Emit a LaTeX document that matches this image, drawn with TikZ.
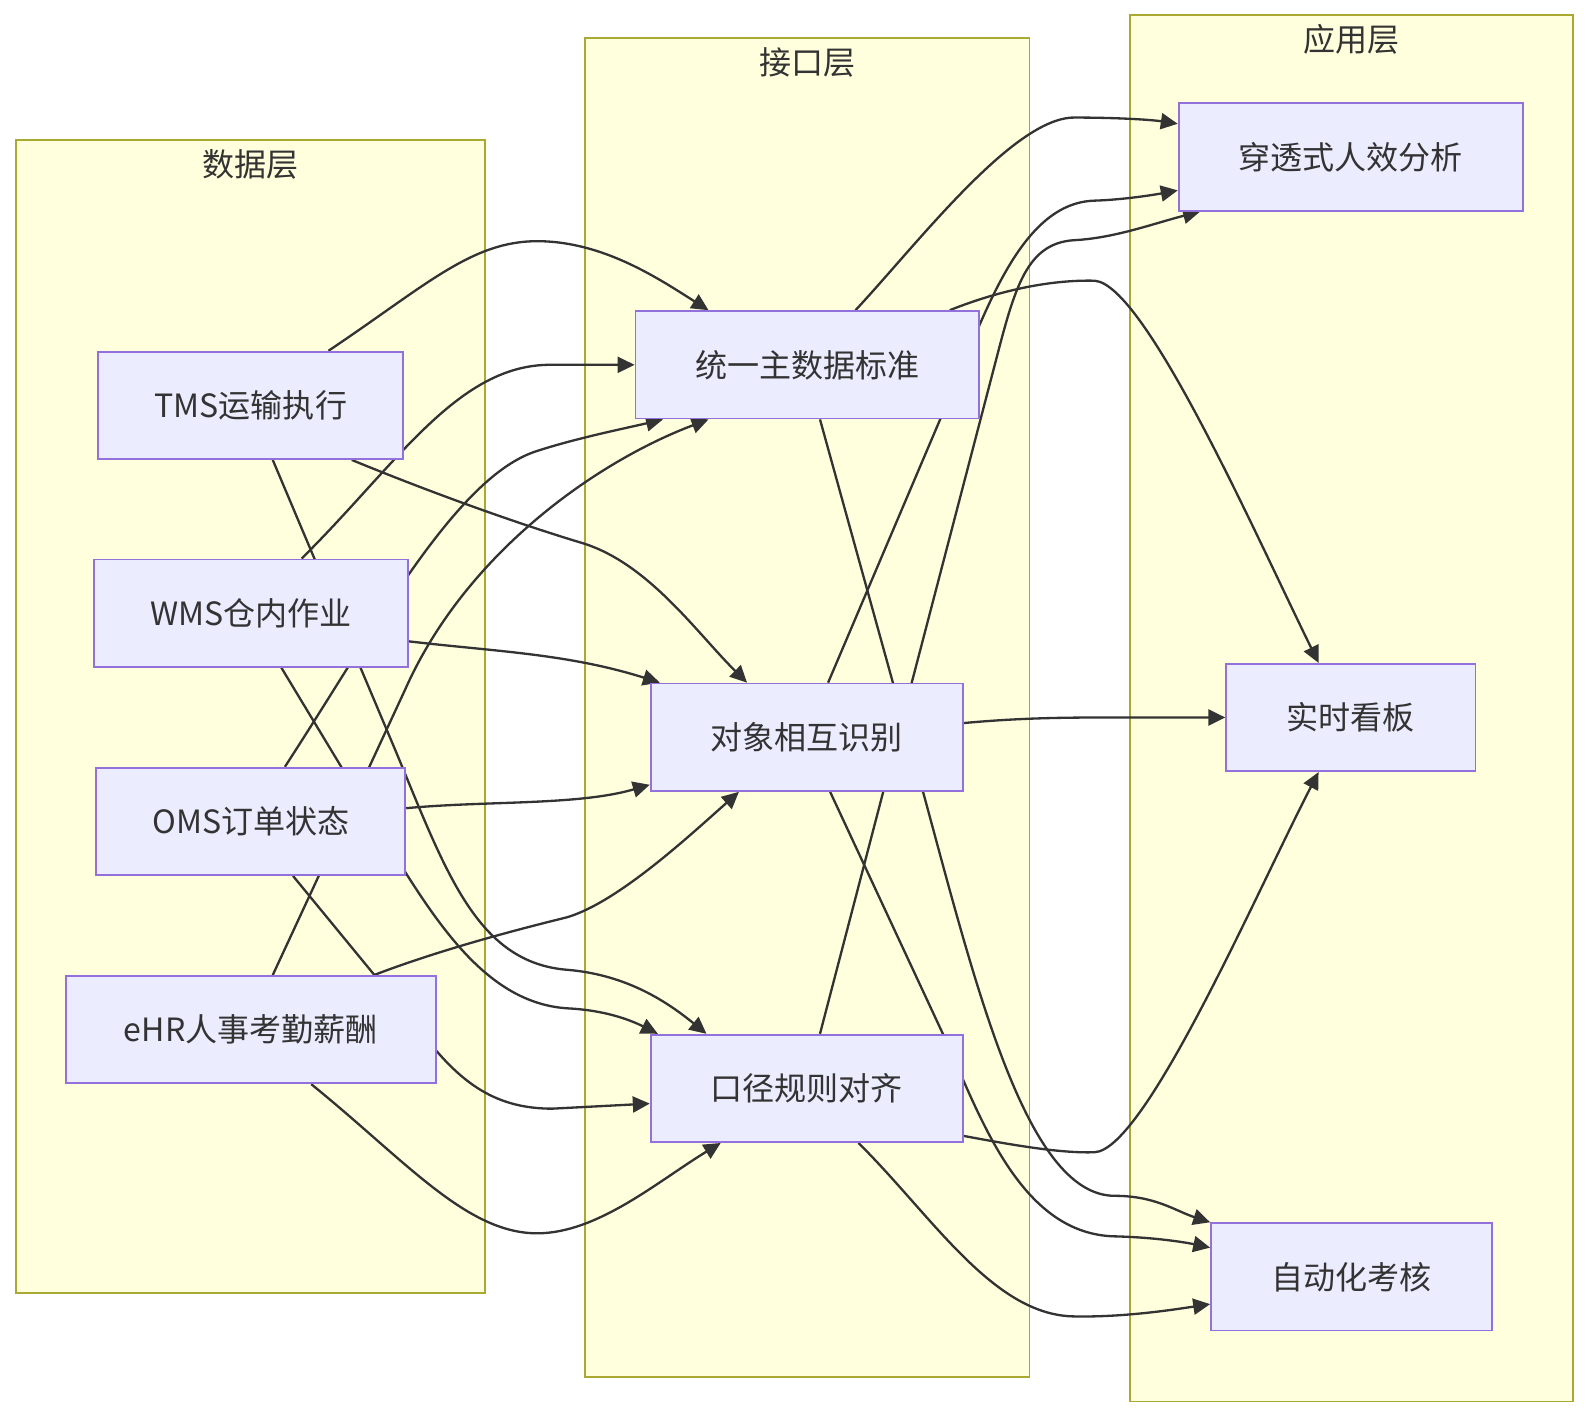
\documentclass[tikz,border=0pt]{standalone}
\usepackage{fontspec}
\newfontfamily\cjk{Noto Sans CJK SC}
\usetikzlibrary{arrows.meta, calc}
\definecolor{layerfill}{HTML}{FFFFDE}
\definecolor{layerline}{HTML}{AAAA33}
\definecolor{boxfill}{HTML}{ECECFF}
\definecolor{boxline}{HTML}{9370DB}
\definecolor{linkcolor}{HTML}{333333}
\definecolor{textcolor}{HTML}{333333}
\pgfdeclarelayer{layers}
\pgfdeclarelayer{links}
\pgfsetlayers{layers,links,main}

\begin{document}
\begin{tikzpicture}[
    x=0.02cm, y=-0.02cm,
    every node/.style={font=\cjk\fontsize{18}{22}\selectfont, text=textcolor},
    box/.style={draw=boxline, fill=boxfill, line width=1pt, minimum height=2.12cm, inner sep=0pt},
    layer/.style={draw=layerline, fill=layerfill, line width=1pt, inner sep=0pt},
    flow/.style={draw=linkcolor, line width=1.3pt, -{Triangle[length=9.5pt, width=9pt]}},
]
\useasboundingbox (0,0) rectangle (1568,1399);

% data sources
\node[box, minimum width=6.02cm] (tms) at (247.5,400) {TMS运输执行};
\node[box, minimum width=6.20cm] (wms) at (247.5,605) {WMS仓内作业};
\node[box, minimum width=6.10cm] (oms) at (247.5,810.5) {OMS订单状态};
\node[box, minimum width=7.30cm] (ehr) at (247.5,1016) {eHR人事考勤薪酬};

% interface
\node[box, minimum width=6.78cm] (std) at (796.5,360) {统一主数据标准};
\node[box, minimum width=6.16cm] (ident) at (796,727.5) {对象相互识别};
\node[box, minimum width=6.16cm] (rule) at (796,1074) {口径规则对齐};

% applications
\node[box, minimum width=6.80cm] (pen) at (1333,155) {穿透式人效分析};
\node[box, minimum width=4.92cm] (board) at (1333,708) {实时看板};
\node[box, minimum width=5.54cm] (exam) at (1333.5,1260) {自动化考核};

\begin{pgfonlayer}{layers}
\fill[white] (0,0) rectangle (1568,1399);
\node[layer, minimum width=9.26cm, minimum height=22.76cm] (datalayer) at (247.5,707) {};
\node[layer, minimum width=8.78cm, minimum height=26.44cm] (ifacelayer) at (796.5,698) {};
\node[layer, minimum width=8.74cm, minimum height=27.36cm] (applayer) at (1333.5,699) {};
\end{pgfonlayer}
\node (datatitle) at ($(datalayer.north)+(0,25)$) {数据层};
\node (ifacetitle) at ($(ifacelayer.north)+(0,25)$) {接口层};
\node (apptitle) at ($(applayer.north)+(0,25)$) {应用层};

\begin{pgfonlayer}{links}
% data layer into std
\draw[flow] ($(tms.north west)+(228,0)$) .. controls (420,282) and (465,238) .. (530,238)
    .. controls (595,238) and (650,275) .. ($(std.north west)+(73,0)$);
\draw[flow] ($(wms.north west)+(206,0)$) .. controls (390,460) and (450,362) .. (540,360) -- (std.west);
\draw[flow] ($(oms.north west)+(187,0)$) .. controls (370,620) and (450,470) .. (530,445)
    .. controls (570,432) and (620,422) .. ($(std.south west)+(28,0)$);
\draw[flow] ($(ehr.north west)+(205,0)$) -- (400,680)
    .. controls (460,545) and (590,455) .. ($(std.south west)+(73,0)$);

% data layer into ident
\draw[flow] ($(tms.south west)+(251,0)$) .. controls (430,488) and (515,518) .. (575,536)
    .. controls (640,556) and (688,625) .. ($(ident.north west)+(96,0)$);
\draw[flow] ($(wms.south east)+(0,-26)$) .. controls (490,643) and (560,645) .. ($(ident.north west)+(10,0)$);
\draw[flow] ($(oms.east)+(0,-13)$) .. controls (480,790) and (570,795) .. ($(ident.south west)+(0,-7)$);
\draw[flow] ($(ehr.north west)+(305,0)$) .. controls (440,935) and (520,915) .. (560,905)
    .. controls (610,890) and (680,825) .. ($(ident.south west)+(88,0)$);

% data layer into rule
\draw[flow] ($(tms.south west)+(173,0)$) -- (390,740) .. controls (440,860) and (470,950) .. (560,957)
    .. controls (620,962) and (660,990) .. ($(rule.north west)+(56,0)$);
\draw[flow] ($(wms.south west)+(186,0)$) -- (381,830) .. controls (430,910) and (480,990) .. (560,995)
    .. controls (600,997) and (625,1008) .. ($(rule.north west)+(8,0)$);
\draw[flow] ($(oms.south west)+(195,0)$) -- (417,1020) .. controls (455,1070) and (490,1094) .. (545,1094)
    -- ($(rule.west)+(0,15)$);
\draw[flow] ($(ehr.south west)+(243,0)$) .. controls (400,1145) and (460,1217) .. (530,1217)
    .. controls (590,1217) and (650,1165) .. ($(rule.south west)+(70,0)$);

% interface into applications
\draw[flow] ($(std.north west)+(218,0)$) .. controls (905,241) and (1000,116) .. (1060,116)
    .. controls (1100,116) and (1135,118) .. ($(pen.north west)+(0,21)$);
\draw[flow] ($(std.north west)+(311,0)$) .. controls (990,285) and (1040,276) .. (1080,277)
    .. controls (1130,280) and (1240,530) .. ($(board.north west)+(92,0)$);
\draw[flow] ($(std.south west)+(183,0)$) -- (905,760) .. controls (960,960) and (1010,1180) .. (1100,1180)
    .. controls (1140,1180) and (1160,1195) .. (exam.north west);

\draw[flow] ($(ident.north west)+(176,0)$) -- (940,385) .. controls (975,300) and (1010,200) .. (1080,198)
    .. controls (1110,197) and (1140,192) .. ($(pen.south west)+(0,-21)$);
\draw[flow] ($(ident.east)+(0,-14)$) .. controls (1000,709) and (1040,708) .. (1090,708) -- (board.west);
\draw[flow] ($(ident.south west)+(178,0)$) -- (935,1030) .. controls (970,1110) and (1010,1218) .. (1100,1220)
    .. controls (1140,1221) and (1170,1226) .. ($(exam.north west)+(0,25)$);

\draw[flow] ($(rule.north west)+(168,0)$) -- (979,370) .. controls (1000,290) and (1010,240) .. (1060,237)
    .. controls (1100,235) and (1140,220) .. ($(pen.south west)+(22,0)$);
\draw[flow] ($(rule.south east)+(0,-7)$) .. controls (1010,1132) and (1050,1138) .. (1080,1137)
    .. controls (1130,1135) and (1240,880) .. ($(board.south west)+(92,0)$);
\draw[flow] ($(rule.south west)+(206,0)$) .. controls (920,1200) and (980,1298) .. (1060,1299)
    .. controls (1110,1300) and (1160,1292) .. ($(exam.south west)+(0,-27)$);
\end{pgfonlayer}
\end{tikzpicture}
\end{document}
